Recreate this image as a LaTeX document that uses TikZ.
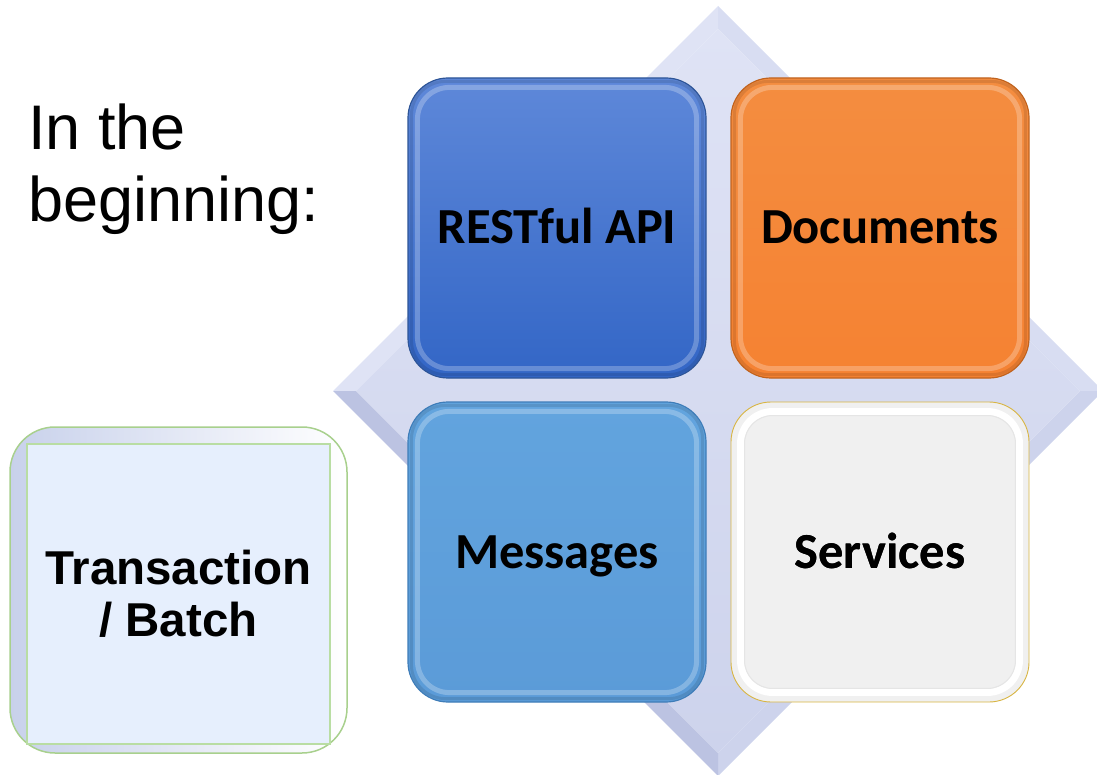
\documentclass[tikz,border=0pt]{standalone}
\usepackage{fontspec}
\setmainfont{Liberation Sans}
\newfontfamily\tilefont{Carlito}
\usetikzlibrary{calc}

\definecolor{dmA}{HTML}{DFE3F5}
\definecolor{dmB}{HTML}{D8DDF2}
\definecolor{dmC}{HTML}{CDD3EC}
\definecolor{dmD}{HTML}{BCC3E2}
\definecolor{restTop}{HTML}{5E88D9}
\definecolor{restBot}{HTML}{3366C6}
\definecolor{restLine}{HTML}{2E5597}
\definecolor{docTop}{HTML}{F48D40}
\definecolor{docBot}{HTML}{F58232}
\definecolor{docLine}{HTML}{C0631F}
\definecolor{msgTop}{HTML}{62A4DE}
\definecolor{msgBot}{HTML}{5B9BD8}
\definecolor{msgLine}{HTML}{3F7DB8}
\definecolor{svcFill}{HTML}{F0F0F0}
\definecolor{svcLine}{HTML}{D8B543}
\definecolor{tbLine}{HTML}{A8D08D}
\definecolor{tbEdge}{HTML}{C8D1EB}
\definecolor{tbFill}{HTML}{E6EFFD}
\definecolor{tbInner}{HTML}{B9DDA3}

\tikzset{
  tile/.style={minimum width=298pt, minimum height=300pt, rounded corners=40pt,
    line width=1.2pt, inner sep=0pt, text height=32pt, text depth=0pt,
    font=\tilefont\bfseries\fontsize{50.5pt}{56pt}\selectfont},
  bevel/.style={draw=white, line width=5pt, opacity=0.25, rounded corners=32pt},
  innershade/.style={draw=black, line width=3pt, opacity=0.10, rounded corners=34pt},
}

\begin{document}
\begin{tikzpicture}[x=1pt, y=-1pt]
\useasboundingbox (0,0) rectangle (1097,775);

% bevelled diamond behind the four tiles
\coordinate (dc) at (718,391);
\fill[dmA] (333,391) -- (718,6) -- (718,29) -- (356,391) -- cycle;
\fill[dmB] (718,6) -- (1103,391) -- (1080,391) -- (718,29) -- cycle;
\fill[dmC] (1103,391) -- (718,776) -- (718,753) -- (1080,391) -- cycle;
\fill[dmD] (718,776) -- (333,391) -- (356,391) -- (718,753) -- cycle;
\shade[top color=dmA, bottom color=dmC] (356,391) -- (718,29) -- (1080,391) -- (718,753) -- cycle;

% four tiles
\node[tile, draw=restLine, top color=restTop, bottom color=restBot] (rest) at (557,228) {RESTful API};
\node[tile, draw=docLine, top color=docTop, bottom color=docBot] (docs) at (880,228) {Documents};
\node[tile, draw=msgLine, top color=msgTop, bottom color=msgBot] (msgs) at (557,552) {Messages};
\node[tile, draw=svcLine, line width=0.9pt, fill=svcFill] (svcs) at (880,552) {Services};

\foreach \n in {rest,docs,msgs} {
  \draw[innershade] ($(\n.north west)+(4,4)$) rectangle ($(\n.south east)+(-4,-4)$);
  \draw[bevel] ($(\n.north west)+(10,10)$) rectangle ($(\n.south east)+(-10,-10)$);
}
\draw[draw=white, line width=7pt, rounded corners=32pt]
  ($(svcs.north west)+(10,10)$) rectangle ($(svcs.south east)+(-10,-10)$);
\draw[draw=black!10, line width=1pt, rounded corners=28pt]
  ($(svcs.north west)+(14,14)$) rectangle ($(svcs.south east)+(-14,-14)$);
\node[tile] at (svcs) {Services};

% left-hand box
\node[draw=tbLine, line width=1.5pt, rounded corners=45pt, left color=tbEdge, right color=white,
  minimum width=337pt, minimum height=326pt] (tbframe) at (178.5,590) {};
\node[draw=tbInner, line width=1.5pt, fill=tbFill, minimum width=303pt, minimum height=300pt,
  align=center, font=\bfseries\fontsize{47.5pt}{52pt}\selectfont] (tb) at (178.5,594) {Transaction\\/ Batch};

% heading
\node[anchor=north west, inner sep=0pt, align=left, font=\fontsize{63pt}{72pt}\selectfont]
  (head) at (28,104) {In the\\beginning:};
\end{tikzpicture}
\end{document}
